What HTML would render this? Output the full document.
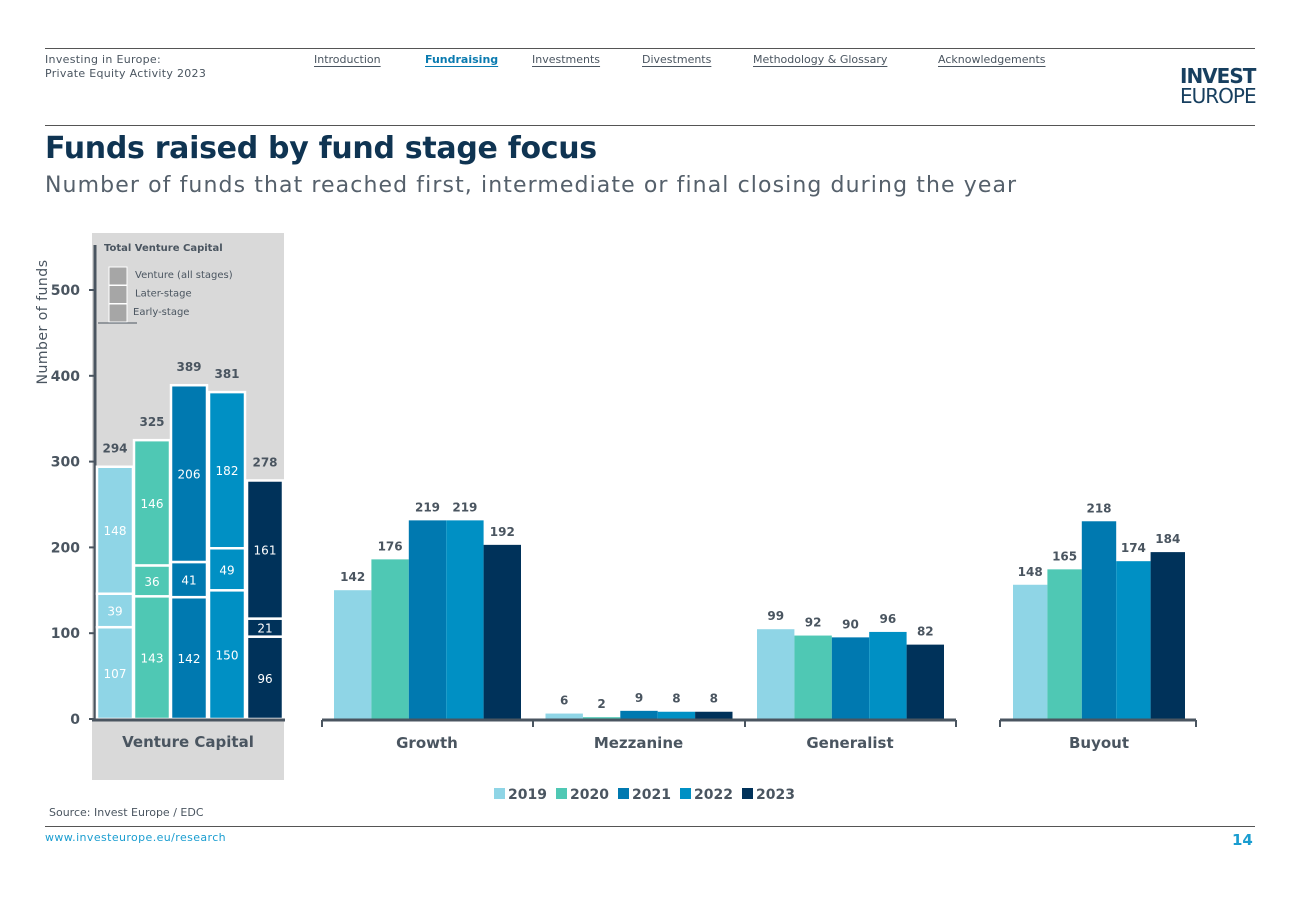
<!DOCTYPE html>
<html><head><meta charset="utf-8">
<style>
body{margin:0;width:1300px;height:900px;background:#fff;font-family:"DejaVu Sans","Liberation Sans",sans-serif;overflow:hidden;position:relative}
.a{position:absolute}
.nav{font-size:11px;color:#4a5560;text-decoration:underline;text-underline-offset:3px}
</style></head><body>
<div class="a" style="left:45px;top:48px;width:1210px;height:1px;background:#555"></div>
<div class="a" style="left:45px;top:53px;font-size:11px;color:#4a5560;line-height:14px;letter-spacing:0.3px">Investing in Europe:<br>Private Equity Activity 2023</div>
<div class="a nav" style="left:314px;top:53px">Introduction</div>
<div class="a nav" style="left:425px;top:53px;color:#0a7bb0;font-weight:bold">Fundraising</div>
<div class="a nav" style="left:532px;top:53px">Investments</div>
<div class="a nav" style="left:642px;top:53px">Divestments</div>
<div class="a nav" style="left:753px;top:53px">Methodology &amp; Glossary</div>
<div class="a nav" style="left:938px;top:53px">Acknowledgements</div>
<div class="a" style="left:1180px;top:66px;color:#173f5f;font-size:20px;line-height:20px;letter-spacing:-1px"><b>INVEST</b><br>EUROPE</div>
<div class="a" style="left:45px;top:125px;width:1210px;height:1px;background:#555"></div>
<div class="a" style="left:45px;top:131px;font-size:30px;font-weight:bold;color:#0f3452;letter-spacing:-0.3px">Funds raised by fund stage focus</div>
<div class="a" style="left:45px;top:173px;font-size:22px;color:#55606b;letter-spacing:1.1px">Number of funds that reached first, intermediate or final closing during the year</div>
<svg class="a" style="left:0;top:0" width="1300" height="900" id="chart"></svg>
<div class="a" style="left:49px;top:806px;font-size:11px;color:#4a5560">Source: Invest Europe / EDC</div>
<div class="a" style="left:45px;top:826px;width:1210px;height:1px;background:#555"></div>
<div class="a" style="left:45px;top:831px;font-size:11px;color:#1a9dd0;letter-spacing:0.4px">www.investeurope.eu/research</div>
<div class="a" style="left:1232px;top:831px;font-size:15px;font-weight:bold;color:#1a9dd0">14</div>
<script>
const years=["2019","2020","2021","2022","2023"];
const colors=["#8fd5e6","#4fc8b4","#0079b0","#0090c4","#00325a"];
const vcEarly=[107,143,142,150,96];
const vcLater=[39,36,41,49,21];
const vcAll=[148,146,206,182,161];
const vcTotal=[294,325,389,381,278];
const groups=["Growth","Mezzanine","Generalist"];
const growth=[142,176,219,219,192];
const mezz=[6,2,9,8,8];
const generalist=[99,92,90,96,82];
const buyout=[148,165,218,174,184];
const yTicks=[0,100,200,300,400,500];
const svg=document.getElementById('chart');
const NS="http://www.w3.org/2000/svg";
function el(t,a,txt){const e=document.createElementNS(NS,t);for(const k in a)e.setAttribute(k,a[k]);if(txt!==undefined)e.textContent=txt;svg.appendChild(e);return e;}
const base=719;
const yL=v=>base-v*0.858;
const yR=v=>base-v*0.907;
let e;
e=el('rect',{x:92,y:233,width:192,height:547,fill:'#d9d9d9'});

e=el('line',{x1:95,y1:245,x2:95,y2:720,stroke:'#4a5560','stroke-width':3});

yTicks.forEach(t=>{
  e=el('line',{x1:89,x2:95,y1:yL(t),y2:yL(t),stroke:'#4a5560','stroke-width':2});
  
  e=el('text',{x:80,y:yL(t)+5,'text-anchor':'end','font-size':14,'font-weight':'bold',fill:'#4a5560'},t);
  
});
e=el('text',{x:0,y:0,transform:'translate(47,322) rotate(-90)','text-anchor':'middle','font-size':14,fill:'#4a5560','letter-spacing':0.5},'Number of funds');

e=el('text',{x:104,y:251,'font-size':10,'font-weight':'bold',fill:'#4a5560'},'Total Venture Capital');

["Venture (all stages)","Later-stage","Early-stage"].forEach((n,i)=>{
  e=el('rect',{x:109,y:267+i*18.5,width:18,height:18,fill:'#a6a6a6',stroke:'#fff','stroke-width':1});
  
  e=el('text',{x:[135,135,133][i],y:278+i*18.5,'font-size':10,fill:'#4a5560'},n);
  
});
e=el('line',{x1:98,x2:137,y1:323,y2:323,stroke:'#4a5560','stroke-width':1});

const vcX=[97,134,171,209,247],vcW=36;
years.forEach((y,i)=>{
  const segs=[vcEarly[i],vcLater[i],vcAll[i]];let acc=0;
  segs.forEach((v,j)=>{
    const y1=yL(acc+v),y0=yL(acc);
    e=el('rect',{x:vcX[i],y:y1,width:vcW,height:y0-y1,fill:colors[i],stroke:'#fff','stroke-width':2.5});
    
    e=el('text',{x:vcX[i]+vcW/2,y:(y0+y1)/2+5,'text-anchor':'middle','font-size':12,fill:'#fff'},v);
    
    acc+=v;
  });
  e=el('text',{x:vcX[i]+vcW/2,y:yL(vcTotal[i])-14,'text-anchor':'middle','font-size':12,'font-weight':'bold',fill:'#4a5560'},vcTotal[i]);
  
});
e=el('line',{x1:92,x2:285,y1:720,y2:720,stroke:'#4a5560','stroke-width':3});

e=el('text',{x:188,y:747,'text-anchor':'middle','font-size':15,'font-weight':'bold',fill:'#4a5560'},'Venture Capital');

function drawGroup(vals,x0,bw,name,cx){
  vals.forEach((v,i)=>{
    const x=x0+i*bw,yt=yR(v);
    e=el('rect',{x:x,y:yt,width:bw,height:base-yt,fill:colors[i]});
    
    e=el('text',{x:x+bw/2,y:yt-9,'text-anchor':'middle','font-size':12,'font-weight':'bold',fill:'#4a5560'},v);
    
  });
  e=el('text',{x:cx,y:748,'text-anchor':'middle','font-size':15,'font-weight':'bold',fill:'#4a5560'},name);
  
}
const gData=[growth,mezz,generalist];
groups.forEach((g,k)=>drawGroup(gData[k],334+k*211.5,37.4,g,427+k*211.5));
e=el('line',{x1:322,x2:956,y1:720,y2:720,stroke:'#4a5560','stroke-width':3});

[322,533,745,956].forEach(x=>{e=el('line',{x1:x,x2:x,y1:720,y2:727,stroke:'#4a5560','stroke-width':2});
});
drawGroup(buyout,1013,34.4,'Buyout',1099);
e=el('line',{x1:1000,x2:1196,y1:720,y2:720,stroke:'#4a5560','stroke-width':3});

[1000,1196].forEach(x=>{e=el('line',{x1:x,x2:x,y1:720,y2:727,stroke:'#4a5560','stroke-width':2});
});
years.forEach((y,i)=>{
  const x=494+i*62;
  e=el('rect',{x:x,y:788,width:11,height:11,fill:colors[i]});
  
  e=el('text',{x:x+14,y:799,'font-size':14,'font-weight':'bold',fill:'#4a5560'},y);
  
});
</script>
</body></html>
